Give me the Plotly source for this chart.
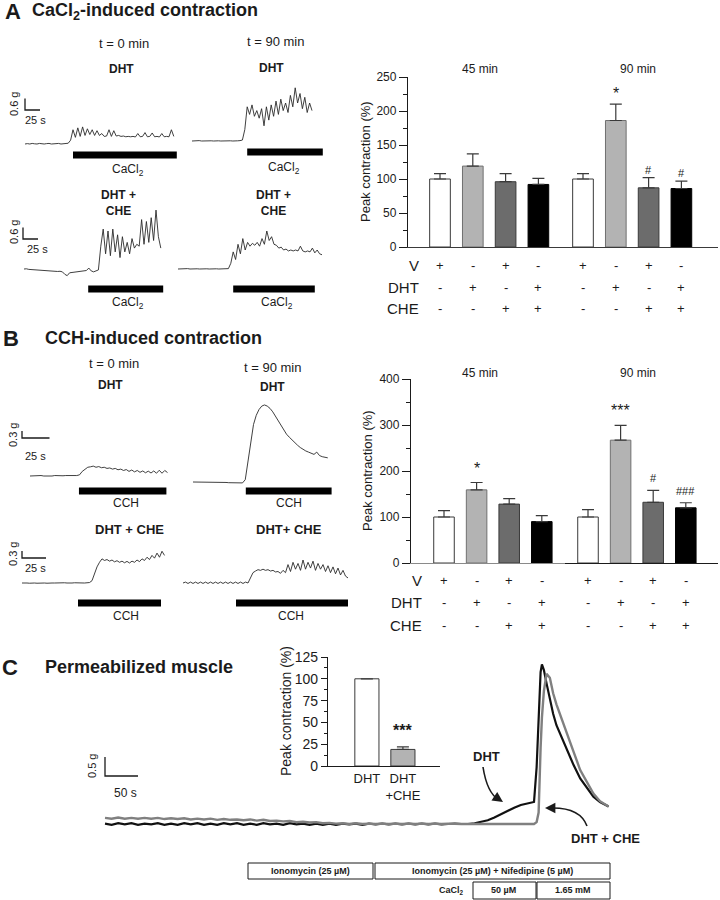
import numpy as np
import plotly.graph_objects as go

W, H = 720, 900
FONT = "Liberation Sans, Arial, Helvetica, sans-serif"
INK = "#1b1b1b"

# ---- bar charts: peak contraction (% of vehicle) ----
CONDITIONS = ["V", "DHT", "V + CHE", "DHT + CHE"]
TIMEPOINTS = ["45 min", "90 min"]
ROW_NAMES = ["V", "DHT", "CHE"]
ROW_V = ["+", "-", "+", "-"]
ROW_DHT = ["-", "+", "-", "+"]
ROW_CHE = ["-", "-", "+", "+"]
BAR_FILL = ["#ffffff", "#b3b3b3", "#6c6c6c", "#000000"]
BAR_EDGE = ["#3a3a3a", "#707070", "#3a3a3a", "#000000"]

CA_45 = [100, 119, 96, 92]
CA_45_SEM = [8, 18, 12, 9]
CA_45_SIG = ["", "", "", ""]
CA_90 = [100, 186, 87, 86]
CA_90_SEM = [8, 24, 15, 11]
CA_90_SIG = ["", "*", "#", "#"]

CCH_45 = [100, 159, 128, 90]
CCH_45_SEM = [14, 16, 12, 13]
CCH_45_SIG = ["", "*", "", ""]
CCH_90 = [100, 267, 132, 120]
CCH_90_SEM = [16, 32, 26, 11]
CCH_90_SIG = ["", "***", "#", "###"]

PERM_GROUPS = ["DHT", "DHT<br>+CHE"]
PERM_VALS = [100, 19]
PERM_SEM = [0, 3]
PERM_SIG = ["", "***"]
PERM_FILL = ["#ffffff", "#b3b3b3"]

# ---- tension recordings (g above baseline), uniform sampling ----
A_DT = 4.0  # s
A1_DHT_0 = [0, 0.02, 0, 0.03, 0.01, 0, 0.03, 0.01, 0, 0.02, 0.03, 0, 0.02, 0.01, 0.03, 0, 0.02, 0.01, 0.04,
            0.2, 0.75, 0.35, 0.85, 0.4, 0.9, 0.45, 0.8, 0.5, 0.75, 0.45, 0.7, 0.45, 0.55, 0.4, 0.42, 0.75,
            0.4, 0.7, 0.42, 0.45, 0.4, 0.42, 0.38, 0.4, 0.38, 0.4, 0.37, 0.55, 0.38, 0.4, 0.6, 0.38, 0.4,
            0.58, 0.38, 0.4, 0.37, 0.55, 0.38, 0.4, 0.38, 0.75, 0.4]
A2_DHT_90 = [0, 0.01, 0, 0.02, 0, 0.01, 0.02, 0, 0.01, 0, 0.02, 0.01, 0, 0.01, 0.02, 0, 0.01, 0, 0.02,
             0.01, 0.02, 0.05, 0.6, 1.8, 1.4, 1.9, 1.3, 1.6, 1.2, 1.7, 0.8, 1.8, 1.1, 1.9, 1.3, 2.1, 1.4,
             2.2, 1.6, 2.0, 1.5, 2.4, 1.8, 2.8, 2.0, 2.5, 1.7, 2.3, 1.5, 2.0, 1.6]
A3_CHE_0 = [0, 0.01, -0.02, -0.03, -0.04, -0.05, -0.06, -0.08, -0.07, -0.09, -0.1, -0.1, -0.12, -0.11,
            -0.13, -0.12, -0.15, -0.28, -0.35, -0.2, -0.18, -0.15, -0.14, -0.12, -0.1, -0.1, -0.08, 0.05,
            -0.1, -0.15, -0.12, -0.05, 1.2, 2.1, 0.8, 2.0, 0.7, 2.1, 0.9, 1.8, 0.6, 1.7, 0.9, 1.4, 0.8,
            1.6, 1.1, 1.3, 1.2, 2.6, 1.3, 2.5, 1.4, 2.7, 1.5, 3.1, 1.7, 1.1]
A4_CHE_90 = [0, 0.01, 0, 0.01, 0.02, 0, 0.01, 0.02, 0.01, 0, 0.01, 0.02, 0.01, 0, 0.01, 0.02, 0.01, 0,
             0.01, 0.02, 0.01, 0.02, 0.3, 0.9, 0.5, 1.3, 0.8, 1.6, 1.0, 1.4, 1.2, 1.35, 1.25, 1.4, 1.2,
             1.6, 1.3, 2.0, 1.5, 1.7, 1.3, 1.25, 1.1, 1.15, 1.0, 1.05, 0.95, 1.0, 0.95, 1.0, 0.95, 1.2,
             0.95, 0.9, 0.95, 0.9, 1.1, 0.85, 1.0, 0.8, 0.75]
A_CACL2_ON = [80, 92, 107, 92]   # s, CaCl2 application start
A_CACL2_OFF = [253, 218, 232, 228]

B_DT = 2.5  # s
B1_DHT_0 = [0, 0.01, -0.01, 0, 0.02, 0, -0.01, 0.01, 0, 0.02, 0.01, 0, 0.01, 0.02, 0.01, 0, 0.02, 0.02,
            0.05, 0.2, 0.3, 0.38, 0.4, 0.43, 0.38, 0.41, 0.36, 0.38, 0.33, 0.35, 0.3, 0.33, 0.27, 0.3,
            0.24, 0.28, 0.2, 0.26, 0.18, 0.24, 0.16, 0.22, 0.14, 0.21, 0.13, 0.22, 0.12, 0.25, 0.12,
            0.24, 0.15]
B2_DHT_90 = [0, 0, 0.01, 0, 0, -0.01, 0, 0, -0.01, -0.01, -0.02, -0.02, -0.02, -0.03, -0.03, -0.03,
             -0.04, -0.04, -0.04, 0.1, 0.9, 1.8, 2.5, 2.9, 3.15, 3.3, 3.35, 3.3, 3.2, 3.05, 2.85, 2.65,
             2.45, 2.25, 2.08, 1.95, 1.82, 1.7, 1.6, 1.5, 1.42, 1.35, 1.3, 1.25, 1.2, 1.3, 1.15, 1.1,
             1.08, 1.05]
B3_CHE_0 = [0, 0.01, 0, -0.01, 0.01, 0, -0.01, 0, 0.01, 0, -0.01, 0.01, 0, 0, 0.01, -0.01, 0, 0.01, 0,
            -0.01, 0, 0.01, 0, -0.01, 0.01, 0, 0.01, 0.02, 0.1, 0.45, 0.7, 0.9, 1.05, 0.98, 1.02, 0.95,
            1.0, 0.92, 0.97, 0.9, 0.95, 0.88, 0.94, 0.87, 0.95, 0.9, 1.0, 0.93, 1.05, 0.98, 1.12, 1.02,
            1.2, 1.08, 1.3, 1.12, 1.38, 1.2]
B4_CHE_90 = [0, 0.04, -0.02, 0.04, -0.02, 0.04, -0.02, 0.04, -0.02, 0.04, -0.02, 0.04, -0.02, 0.04,
             -0.02, 0.04, -0.02, 0.04, -0.02, 0.04, -0.02, 0.04, -0.02, 0.04, -0.02, 0.04, 0.0, 0.25,
             0.45, 0.52, 0.58, 0.55, 0.6, 0.55, 0.58, 0.52, 0.55, 0.48, 0.5, 0.42, 0.55, 0.45, 0.8, 0.5,
             0.9, 0.6, 0.85, 0.55, 1.0, 0.6, 0.9, 0.65, 0.95, 0.55, 0.85, 0.6, 0.8, 0.5, 0.75, 0.45, 0.7,
             0.4, 0.65, 0.35, 0.55, 0.3, 0.22]
B_CCH_ON = [44.5, 48, 56, 53]
B_CCH_OFF = [124, 126, 139, 165]

# permeabilized muscle, CaCl2 challenge
C_T_BASE = np.arange(0, 550, 10)
C_DHT_BASE = [0.01, -0.02, 0.02, -0.01, 0.02, -0.02, 0.01, -0.01, 0.02, -0.02, 0.01, -0.02, 0.02, -0.01,
              0.02, -0.02, 0.01, -0.02, 0.02, -0.01, 0.02, -0.02, 0.01, -0.02, 0.02, -0.01, 0.01, -0.02,
              0.02, -0.01, 0.01, -0.02, 0.01, -0.02, 0.01, -0.02, 0.01, -0.01, 0.01, -0.02, 0.01, -0.01,
              0.01, -0.01, 0.01, -0.01, 0.01, -0.01, 0.01, -0.01, 0.01, -0.01, 0.0, 0.01, 0.0]
C_CHE_BASE = [0.16, 0.14, 0.17, 0.14, 0.16, 0.14, 0.16, 0.14, 0.16, 0.13, 0.15, 0.13, 0.15, 0.12, 0.14,
              0.12, 0.14, 0.11, 0.13, 0.11, 0.12, 0.1, 0.12, 0.09, 0.11, 0.08, 0.09, 0.07, 0.08, 0.05,
              0.06, 0.04, 0.05, 0.02, 0.03, 0.01, 0.02, 0.0, 0.02, 0.0, 0.01, 0.0, 0.01, 0.0, 0.01,
              0.0, 0.01, 0.0, 0.01, 0.0, 0.01, 0.0, 0.01, 0.0, 0.0]
C_T_TAIL = [550, 560, 570, 580, 590, 600, 610, 620, 630, 640, 650, 654, 657, 660, 662, 665, 669, 674,
            679, 684, 689, 695, 700, 710, 720, 730, 740, 750, 763]
C_DHT_TAIL = [0.0, 0.02, 0.05, 0.1, 0.17, 0.26, 0.35, 0.43, 0.5, 0.54, 0.58, 1.5, 3.0, 4.0, 4.2, 4.05,
              3.7, 3.3, 2.9, 2.6, 2.39, 2.15, 1.95, 1.55, 1.2, 0.95, 0.72, 0.58, 0.46]
C_CHE_TAIL = [0.0, 0.0, 0.01, 0.0, 0.01, 0.0, 0.01, 0.0, 0.01, 0.0, 0.0, 0.05, 0.3, 2.0, 2.8, 3.5, 3.95,
              3.85, 3.44, 3.15, 2.9, 2.6, 2.39, 1.9, 1.42, 1.1, 0.8, 0.6, 0.46]

# scale bars
A_SCALE_G, A_SCALE_S = 0.6, 25
B_SCALE_G, B_SCALE_S = 0.3, 25
C_SCALE_G, C_SCALE_S = 0.5, 50


def px(x):
    return x / W


def py(y):
    return 1 - y / H


axes = {}
counts = {"x": 0, "y": 0}
shapes = []
annotations = []
traces = []


def new_axis(letter, **props):
    counts[letter] += 1
    n = counts[letter]
    suffix = "" if n == 1 else str(n)
    props.setdefault("automargin", False)
    axes[f"{letter}axis{suffix}"] = props
    return f"{letter}{suffix}"


def key(ref):
    return ref[0] + "axis" + ref[1:]


def text(x, y, s, size=13, bold=False, **kw):
    kw.setdefault("xanchor", "center")
    kw.setdefault("yanchor", "middle")
    annotations.append(dict(
        x=px(x), y=py(y), xref="paper", yref="paper",
        text=f"<b>{s}</b>" if bold else s, showarrow=False,
        font=dict(family=FONT, size=size, color=INK), **kw))


def box(x0, y0, x1, y1):
    shapes.append(dict(type="rect", xref="paper", yref="paper",
                       x0=px(x0), x1=px(x1), y0=py(y1), y1=py(y0),
                       line=dict(color=INK, width=1)))


def trace_axes(origin, px_s, px_g, area):
    ox, oy = origin
    left, top, right, bottom = area
    xid = new_axis("x", domain=[px(left), px(right)],
                   range=[(left - ox) / px_s, (right - ox) / px_s], visible=False)
    yid = new_axis("y", domain=[py(bottom), py(top)],
                   range=[(oy - bottom) / px_g, (oy - top) / px_g], visible=False)
    axes[key(xid)]["anchor"] = yid
    axes[key(yid)]["anchor"] = xid
    return xid, yid


def recording(values, dt, origin, px_s, px_g, area, on, off, bar_y):
    xid, yid = trace_axes(origin, px_s, px_g, area)
    t = np.arange(len(values)) * dt
    traces.append(go.Scatter(x=t, y=values, xaxis=xid, yaxis=yid, mode="lines",
                             line=dict(color="#2a2a2a", width=0.9), hoverinfo="skip"))
    shapes.append(dict(type="rect", xref=xid, yref="paper", x0=on, x1=off,
                       y0=py(bar_y + 3.5), y1=py(bar_y - 3.5),
                       fillcolor="#000000", line=dict(width=0)))


def scale_bar(corner, len_x, len_y):
    cx, cy = corner
    shapes.append(dict(type="path", xref="paper", yref="paper",
                       path=f"M {px(cx)},{py(cy - len_y)} L {px(cx)},{py(cy)} L {px(cx + len_x)},{py(cy)}",
                       line=dict(color=INK, width=1.3)))


def bar_panel(series, y_top, y_bot, y_max, dtick, minor, x_edges, first_centers, pitch,
              axis_colors, sig_shift, row_ys, row_right, title_x):
    yid = new_axis("y", domain=[py(y_bot), py(y_top)], range=[0, y_max],
                   showline=True, linecolor=INK, linewidth=1.3, ticks="outside", ticklen=8,
                   tickwidth=1, tickcolor=INK, tick0=0, dtick=dtick,
                   minor=dict(dtick=minor, ticks="outside", ticklen=4, tickcolor=INK),
                   showgrid=False, zeroline=False,
                   tickfont=dict(family=FONT, size=12, color=INK))
    xids = []
    for g, (vals, sems, sigs) in enumerate(series):
        left, right = x_edges[g], x_edges[g + 1]
        c0 = first_centers[g]
        xid = new_axis("x", domain=[px(left), px(right)], type="category",
                       categoryorder="array", categoryarray=CONDITIONS,
                       range=[(left - c0) / pitch, (right - c0) / pitch],
                       showline=True, linecolor=axis_colors[g], linewidth=1.3,
                       ticks="", showticklabels=False, showgrid=False, zeroline=False,
                       anchor=yid)
        xids.append(xid)
        traces.append(go.Bar(
            x=CONDITIONS, y=vals, xaxis=xid, yaxis=yid, width=0.63,
            marker=dict(color=BAR_FILL, line=dict(color=BAR_EDGE, width=1)),
            error_y=dict(type="data", array=sems, arrayminus=[0] * len(sems),
                         symmetric=False, color="#3a3a3a", thickness=1.2, width=6),
            hoverinfo="skip"))
        for cat, v, e, s in zip(CONDITIONS, vals, sems, sigs):
            if s:
                annotations.append(dict(
                    x=cat, y=v + e, xref=xid, yref=yid, text=s, showarrow=False,
                    xanchor="center", yanchor="bottom", yshift=sig_shift,
                    font=dict(family=FONT, size=16 if "*" in s else 11, color=INK)))
        for row_y, signs in zip(row_ys, [ROW_V, ROW_DHT, ROW_CHE]):
            for cat, s in zip(CONDITIONS, signs):
                annotations.append(dict(
                    x=cat, y=py(row_y), xref=xid, yref="paper", text=s, showarrow=False,
                    xanchor="center", yanchor="middle",
                    font=dict(family=FONT, size=13, color=INK)))
    axes[key(yid)]["anchor"] = xids[0]
    for row_y, name in zip(row_ys, ROW_NAMES):
        text(row_right, row_y, name, size=15, xanchor="right")
    text(title_x, (y_top + y_bot) / 2, "Peak contraction (%)", size=13, textangle=-90)


# ---------------- panel A ----------------
text(13, 12, "A", size=22, bold=True)
text(30, 12, "CaCl<sub>2</sub>-induced contraction", size=18, bold=True, xanchor="left")
text(124, 43, "t = 0 min")
text(275, 42, "t = 90 min")
text(121, 69, "DHT", size=12, bold=True)
text(271, 68, "DHT", size=12, bold=True)
text(118, 203, "DHT +<br>CHE", size=12, bold=True)
text(273, 203, "DHT +<br>CHE", size=12, bold=True)
for x, y in [(128, 170), (284, 168), (128, 303), (277, 303)]:
    text(x, y, "CaCl<sub>2</sub>", size=12)

A_PX_S, A_PX_G = 0.6, 19.0
recording(A1_DHT_0, A_DT, (25, 144), A_PX_S, A_PX_G, (20, 85, 190, 165),
          A_CACL2_ON[0], A_CACL2_OFF[0], 155)
recording(A2_DHT_90, A_DT, (192, 141), A_PX_S, A_PX_G, (188, 75, 335, 162),
          A_CACL2_ON[1], A_CACL2_OFF[1], 152)
recording(A3_CHE_0, A_DT, (24, 269), A_PX_S, A_PX_G, (18, 200, 185, 298),
          A_CACL2_ON[2], A_CACL2_OFF[2], 289)
recording(A4_CHE_90, A_DT, (178, 269), A_PX_S, A_PX_G, (172, 220, 335, 298),
          A_CACL2_ON[3], A_CACL2_OFF[3], 289)
for corner, gpos, spos in [((25, 110), (14, 104), (35, 120)), ((23, 239), (14, 232), (37, 249))]:
    scale_bar(corner, A_SCALE_S * A_PX_S, A_SCALE_G * A_PX_G)
    text(gpos[0], gpos[1], f"{A_SCALE_G} g", size=11, textangle=-90)
    text(spos[0], spos[1], f"{A_SCALE_S} s", size=11)

bar_panel([(CA_45, CA_45_SEM, CA_45_SIG), (CA_90, CA_90_SEM, CA_90_SIG)],
          77, 247, 250, 50, 25, [408, 561, 718], [440, 583], 32.8,
          ["#3a3a3a", "#3a3a3a"], 0, [265, 287, 309], 421, 366)
text(480, 69, TIMEPOINTS[0], size=12)
text(638, 69, TIMEPOINTS[1], size=12)

# ---------------- panel B ----------------
text(11, 338, "B", size=22, bold=True)
text(43, 338, "CCH-induced contraction", size=18, bold=True, xanchor="left")
text(114, 363, "t = 0 min")
text(272, 367, "t = 90 min")
text(110, 385, "DHT", size=12, bold=True)
text(272, 387, "DHT", size=12, bold=True)
text(129, 529, "DHT + CHE", size=13, bold=True)
text(289, 529, "DHT+ CHE", size=13, bold=True)
for x, y in [(126, 503), (289, 503), (126, 616), (291, 616)]:
    text(x, y, "CCH", size=12)

B_PX_G = 23.0
recording(B1_DHT_0, B_DT, (30, 476), 1.1, B_PX_G, (25, 455, 180, 500),
          B_CCH_ON[0], B_CCH_OFF[0], 491)
recording(B2_DHT_90, B_DT, (193, 482), 1.1, B_PX_G, (188, 395, 345, 500),
          B_CCH_ON[1], B_CCH_OFF[1], 491)
recording(B3_CHE_0, B_DT, (22, 583), 1.0, B_PX_G, (16, 540, 175, 612),
          B_CCH_ON[2], B_CCH_OFF[2], 603)
recording(B4_CHE_90, B_DT, (183, 583), 1.0, B_PX_G, (178, 545, 355, 612),
          B_CCH_ON[3], B_CCH_OFF[3], 603)
for corner, pxs, gpos, spos in [((22, 438), 1.1, (13, 435), (35, 456)),
                                ((22, 558), 0.96, (13, 554), (35, 568))]:
    scale_bar(corner, B_SCALE_S * pxs, B_SCALE_G * B_PX_G)
    text(gpos[0], gpos[1], f"{B_SCALE_G} g", size=11, textangle=-90)
    text(spos[0], spos[1], f"{B_SCALE_S} s", size=11)

bar_panel([(CCH_45, CCH_45_SEM, CCH_45_SIG), (CCH_90, CCH_90_SEM, CCH_90_SIG)],
          379, 563, 400, 100, 50, [411, 565, 718], [444, 588], 32.6,
          ["#8a8a8a", "#1b1b1b"], 4, [580, 602, 625], 424, 367)
text(480, 373, TIMEPOINTS[0], size=12)
text(638, 373, TIMEPOINTS[1], size=12)

# ---------------- panel C ----------------
text(10, 667, "C", size=22, bold=True)
text(43, 667, "Permeabilized muscle", size=18, bold=True, xanchor="left")

C_PX_S, C_PX_G = 0.66, 38.0
cx, cy = trace_axes((105, 824), C_PX_S, C_PX_G, (100, 650, 625, 845))
traces.append(go.Scatter(x=np.concatenate([C_T_BASE, C_T_TAIL]), y=C_DHT_BASE + C_DHT_TAIL,
                         xaxis=cx, yaxis=cy, mode="lines",
                         line=dict(color="#111111", width=2.2), hoverinfo="skip"))
traces.append(go.Scatter(x=np.concatenate([C_T_BASE, C_T_TAIL]), y=C_CHE_BASE + C_CHE_TAIL,
                         xaxis=cx, yaxis=cy, mode="lines",
                         line=dict(color="#808080", width=2.4), hoverinfo="skip"))
scale_bar((105, 776), C_SCALE_S * C_PX_S, C_SCALE_G * C_PX_G)
text(92, 766, f"{C_SCALE_G} g", size=11, textangle=-90)
text(125, 793, f"{C_SCALE_S} s", size=12)

# inset bar chart
iy = new_axis("y", domain=[py(766), py(657)], range=[0, 125], showline=True, linecolor=INK,
              linewidth=1.3, ticks="outside", ticklen=6, tickcolor=INK, tick0=0, dtick=25,
              minor=dict(dtick=12.5, ticks="outside", ticklen=3, tickcolor=INK),
              showgrid=False, zeroline=False, tickfont=dict(family=FONT, size=14, color=INK))
ix = new_axis("x", domain=[px(328), px(440)], type="category", range=[-1.08, 2.03],
              showline=True, linecolor=INK, linewidth=1.3, ticks="", showgrid=False,
              zeroline=False, tickfont=dict(family=FONT, size=13, color=INK), anchor=iy)
axes[key(iy)]["anchor"] = ix
traces.append(go.Bar(x=PERM_GROUPS, y=PERM_VALS, xaxis=ix, yaxis=iy, width=0.67,
                     marker=dict(color=PERM_FILL, line=dict(color="#3a3a3a", width=1)),
                     error_y=dict(type="data", array=PERM_SEM, arrayminus=[0, 0],
                                  symmetric=False, color="#3a3a3a", thickness=1.2, width=6),
                     hoverinfo="skip"))
for g, v, e, s in zip(PERM_GROUPS, PERM_VALS, PERM_SEM, PERM_SIG):
    if s:
        annotations.append(dict(x=g, y=v + e, xref=ix, yref=iy, text=f"<b>{s}</b>",
                                showarrow=False, xanchor="center", yanchor="bottom", yshift=6,
                                font=dict(family=FONT, size=16, color=INK)))
text(286, 711, "Peak contraction (%)", size=14, textangle=-90)

# trace labels and arrows
text(486, 756, "DHT", size=13, bold=True)
text(605, 838, "DHT + CHE", size=13, bold=True)
shapes.append(dict(type="path", xref="paper", yref="paper",
                   path=f"M {px(483)},{py(767)} Q {px(487)},{py(793)} {px(499)},{py(800)}",
                   line=dict(color=INK, width=1.6)))
shapes.append(dict(type="path", xref="paper", yref="paper",
                   path=f"M {px(587)},{py(826)} Q {px(580)},{py(807)} {px(550)},{py(808)}",
                   line=dict(color=INK, width=1.6)))
annotations.append(dict(x=px(503), y=py(802), xref="paper", yref="paper", text="",
                        showarrow=True, ax=-9, ay=-6, arrowhead=2, arrowsize=1.3,
                        arrowwidth=1.6, arrowcolor=INK))
annotations.append(dict(x=px(545), y=py(808), xref="paper", yref="paper", text="",
                        showarrow=True, ax=10, ay=0, arrowhead=2, arrowsize=1.3,
                        arrowwidth=1.6, arrowcolor=INK))

# protocol table
box(248, 863, 373, 879)
text(310, 871, "Ionomycin (25 µM)", size=9, bold=True)
box(375, 863, 610, 879)
text(492, 871, "Ionomycin (25 µM) + Nifedipine (5 µM)", size=9, bold=True)
text(466, 890, "CaCl<sub>2</sub>", size=9, bold=True, xanchor="right")
box(473, 882, 536, 899)
text(504, 890, "50 µM", size=9, bold=True)
box(537, 882, 610, 899)
text(573, 890, "1.65 mM", size=9, bold=True)

fig = go.Figure(data=traces)
fig.update_layout(
    width=W, height=H, margin=dict(l=0, r=0, t=0, b=0, autoexpand=False),
    paper_bgcolor="white", plot_bgcolor="rgba(0,0,0,0)",
    showlegend=False, shapes=shapes, annotations=annotations,
    font=dict(family=FONT, color=INK),
    **axes,
)
fig.write_html("out.html", config={"displayModeBar": False},
               post_script="document.body.style.margin='0px';")
